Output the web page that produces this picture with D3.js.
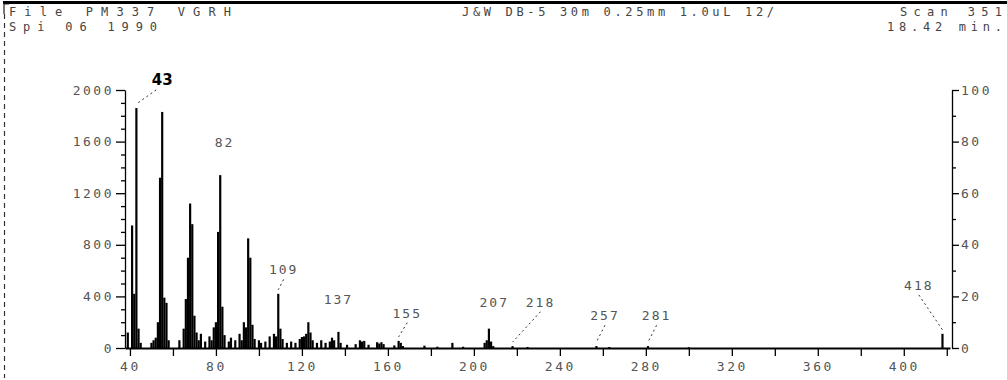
<!DOCTYPE html>
<html>
<head>
<meta charset="utf-8">
<script src="https://cdn.jsdelivr.net/npm/d3@7/dist/d3.min.js"></script>
<style>
  html, body { margin: 0; padding: 0; background: #fff; }
  svg { display: block; }
  .mono { font-family: "DejaVu Sans Mono", "Liberation Mono", monospace; }
</style>
</head>
<body>
<svg id="chart" width="1007" height="380"></svg>
<script>
// ---- data ----
const mzValues = [39,41,42,43,44,45,
  50,51,52,53,54,55,56,57,58,
  63,65,66,67,68,69,70,71,72,73,
  75,77,78,79,80,81,82,83,84,
  86,87,89,91,92,93,94,95,96,97,98,
  100,101,103,105,107,108,109,110,111,
  113,115,117,119,120,121,122,123,124,125,
  127,129,131,133,134,135,137,138,
  141,145,147,148,149,151,155,156,157,158,
  163,165,166,167,177,183,190,195,
  205,206,207,208,209,218,225,257,263,281,300,418];
const abundanceValues = [120,950,420,1860,150,40,
  40,60,80,200,1320,1830,390,350,60,
  60,150,380,700,1120,960,250,120,60,110,
  50,90,60,160,200,900,1340,320,100,
  50,80,60,110,60,200,160,850,700,180,70,
  60,40,50,90,110,90,420,150,70,
  40,50,40,70,85,90,110,200,120,60,
  40,60,40,50,80,60,125,40,
  25,30,60,50,55,25,45,35,45,30,
  20,55,40,15,18,10,40,10,
  40,60,150,50,15,15,8,15,8,15,6,110];

const xTicksMajor = [40,80,120,160,200,240,280,320,360,400];
const xTicksMinor = [60,100,140,180,220,260,300,340,380,420];
const yTicksLeft = [0,400,800,1200,1600,2000];
const yTicksLeftMinor = [100,200,300,500,600,700,900,1000,1100,1300,1400,1500,1700,1800,1900];
const yTicksRight = [0,20,40,60,80,100];
const yTicksRightMinor = [10,30,50,70,90];

const labelText = ["43","82","109","137","155","207","218","257","281","418"];
const labelPeakMz = [43,82,109,137,165,207,218,257,281,418];
const labelAtMz = [55,84,111.5,137,169,209.5,231,261,285,407];
const labelAtAbundance = [2040,1560,570,340,235,320,320,215,215,450];
const labelLeader = [true,false,true,false,true,false,true,true,true,true];

const headerLeft = ["File   PM337 VGRH", "Spi 06 1990"];
const headerMid = "J&W DB-5 30m 0.25mm 1.0uL 12/";
const headerRight = ["Scan 351", "18.42 min."];

// ---- drawing ----
const svg = d3.select("#chart");
svg.append("rect").attr("width",1007).attr("height",380).attr("fill","#fff");

const x = d3.scaleLinear().domain([37.7, 421.5]).range([125, 950]);
const y = d3.scaleLinear().domain([0, 2000]).range([348, 90]);
const yR = d3.scaleLinear().domain([0, 100]).range([348, 90]);

// frame: top thick rule and left dashed border
svg.append("line").attr("x1",3).attr("x2",1007).attr("y1",2.5).attr("y2",2.5)
  .attr("stroke","#000").attr("stroke-width",3);
svg.append("path").attr("d","M9,4 L4,4 L4,14").attr("fill","none").attr("stroke","#222").attr("stroke-width",1.2);
svg.append("line").attr("x1",4.5).attr("x2",4.5).attr("y1",14).attr("y2",378)
  .attr("stroke","#333").attr("stroke-width",1.2).attr("stroke-dasharray","5,4");

// header texts
const hdr = svg.append("g").attr("class","mono").attr("fill","#444").attr("font-size",12);
hdr.append("text").attr("x",9).attr("y",16).attr("textLength",222).attr("lengthAdjust","spacing").text(headerLeft[0]);
hdr.append("text").attr("x",9).attr("y",31).attr("textLength",148).attr("lengthAdjust","spacing").text(headerLeft[1]);
hdr.append("text").attr("x",462).attr("y",16).attr("textLength",312).attr("lengthAdjust","spacing").text(headerMid);
hdr.append("text").attr("x",900).attr("y",16).attr("textLength",102).attr("lengthAdjust","spacing").text(headerRight[0]);
hdr.append("text").attr("x",887).attr("y",31).attr("textLength",115).attr("lengthAdjust","spacing").text(headerRight[1]);

// peaks
const peaks = mzValues.map((m,i) => ({mz:m, ab:abundanceValues[i]}));
svg.append("g").selectAll("line").data(peaks).join("line")
  .attr("x1", d => x(d.mz)).attr("x2", d => x(d.mz))
  .attr("y1", y(0)).attr("y2", d => y(d.ab))
  .attr("stroke","#000").attr("stroke-width",2.2);

// axes
const fmt = d3.format("d");
function styleAxis(g){
  g.selectAll("path,line").attr("stroke","#000").attr("stroke-width",1.3);
  g.selectAll("text").attr("fill","#555")
    .attr("font-family","DejaVu Sans Mono, Liberation Mono, monospace")
    .attr("font-size",13).attr("letter-spacing",2.5);
}
const xAxis = svg.append("g").attr("transform",`translate(0,${y(0)})`)
  .call(d3.axisBottom(x).tickValues(xTicksMajor).tickFormat(fmt).tickSize(8).tickSizeOuter(0).tickPadding(6))
  .call(styleAxis);
xAxis.select(".domain").attr("stroke-width",2);
svg.append("g").attr("transform",`translate(0,${y(0)})`)
  .call(d3.axisBottom(x).tickValues(xTicksMinor.filter(v => v < 421)).tickSize(8).tickSizeOuter(0).tickFormat(""))
  .call(g => g.select(".domain").remove()).call(styleAxis);

svg.append("g").attr("transform",`translate(${x.range()[0]},0)`)
  .call(d3.axisLeft(y).tickValues(yTicksLeft).tickFormat(fmt).tickSize(9).tickSizeOuter(0).tickPadding(2))
  .call(styleAxis);
svg.append("g").attr("transform",`translate(${x.range()[0]},0)`)
  .call(d3.axisLeft(y).tickValues(yTicksLeftMinor).tickSize(4).tickSizeOuter(0).tickFormat(""))
  .call(g => g.select(".domain").remove()).call(styleAxis);

const rx = x.range()[1] + 2;
svg.append("g").attr("transform",`translate(${rx},0)`)
  .call(d3.axisRight(yR).tickValues(yTicksRight).tickFormat(fmt).tickSize(7).tickSizeOuter(0).tickPadding(2))
  .call(styleAxis);
svg.append("g").attr("transform",`translate(${rx},0)`)
  .call(d3.axisRight(yR).tickValues(yTicksRightMinor).tickSize(4).tickSizeOuter(0).tickFormat(""))
  .call(g => g.select(".domain").remove()).call(styleAxis);

// peak labels
const labels = labelText.map((t,i) => ({
  text:t, peak:labelPeakMz[i], lx:labelAtMz[i], ly:labelAtAbundance[i], leader:labelLeader[i],
  peakAb: (peaks.find(p => p.mz === labelPeakMz[i]) || {ab:0}).ab
}));
const lg = svg.append("g");
lg.selectAll("line").data(labels.filter(d => d.leader)).join("line")
  .attr("x1", d => x(d.lx) - (d.text === "43" ? 6 : 0)).attr("y1", d => y(d.ly) + 5)
  .attr("x2", d => x(d.peak)).attr("y2", d => y(d.peakAb) - 4)
  .attr("stroke","#333").attr("stroke-width",1).attr("stroke-dasharray","2,3");
lg.selectAll("text").data(labels).join("text")
  .attr("x", d => x(d.lx)).attr("y", d => y(d.ly))
  .attr("text-anchor","middle")
  .attr("font-family", d => d.text === "43" ? "DejaVu Sans, Arial, sans-serif" : "DejaVu Sans Mono, Liberation Mono, monospace")
  .attr("font-weight", d => d.text === "43" ? "bold" : "normal")
  .attr("font-size", d => d.text === "43" ? 15 : 13)
  .attr("letter-spacing", d => d.text === "43" ? 0 : 2)
  .attr("fill", d => d.text === "43" ? "#000" : "#555")
  .text(d => d.text);
</script>
</body>
</html>
